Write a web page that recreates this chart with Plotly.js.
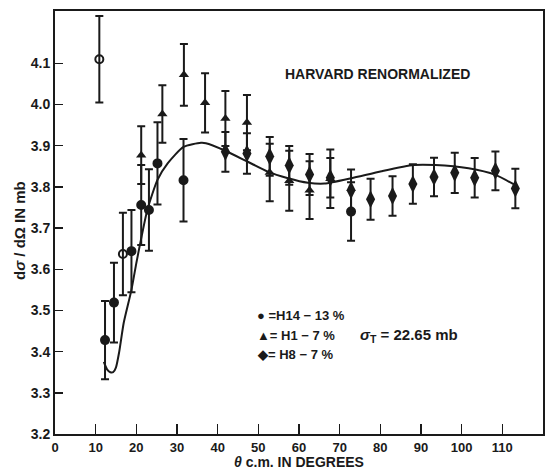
<!DOCTYPE html>
<html>
<head>
<meta charset="utf-8">
<script src="https://cdn.plot.ly/plotly-3.0.1.min.js"></script>
<style>html,body{margin:0;padding:0;background:#fff;}#chart{width:553px;height:472px;}</style>
</head>
<body>
<div id="chart"></div>
<script>
// H14 - 13 % (circles)
var h14X = [10.9, 12.3, 14.5, 16.7, 18.8, 21.2, 23.1, 25.2, 31.6, 72.8];
var h14Y = [4.11, 3.428, 3.519, 3.637, 3.644, 3.756, 3.744, 3.857, 3.816, 3.74];
var h14Err = [0.105, 0.095, 0.097, 0.10, 0.10, 0.097, 0.099, 0.10, 0.10, 0.071];
var h14Open = [true, false, false, true, false, false, false, false, false, false];

// H1 - 7 % (triangles)
var h1X = [21.2, 26.4, 31.7, 36.9, 41.9, 47.2, 52.8, 57.6, 62.6, 67.7];
var h1Y = [3.877, 3.977, 4.072, 4.004, 3.966, 3.956, 3.835, 3.815, 3.792, 3.82];
var h1Err = [0.07, 0.07, 0.075, 0.072, 0.067, 0.067, 0.07, 0.073, 0.07, 0.071];

// H8 - 7 % (diamonds)
var h8X = [41.9, 47.2, 52.8, 57.6, 62.6, 67.7, 72.8, 77.6, 83.0, 88.0, 93.2, 98.3, 103.2, 108.3, 113.2];
var h8Y = [3.885, 3.881, 3.874, 3.852, 3.83, 3.822, 3.792, 3.770, 3.778, 3.807, 3.824, 3.834, 3.822, 3.839, 3.796];
var h8Err = [0.048, 0.049, 0.047, 0.047, 0.05, 0.048, 0.05, 0.05, 0.048, 0.048, 0.047, 0.049, 0.048, 0.047, 0.048];

// fitted curve
var curveX = [12.0, 12.8, 13.6, 14.3, 15.0, 15.8, 16.9, 18.8, 20.0, 21.1, 22.7, 25.2, 27.7, 31.6, 35.9, 37.1, 41.6, 47.4, 52.3, 57.3, 62.2, 66.3, 72.9, 80.3, 88.2, 93.5, 101.7, 108.3, 113.2];
var curveY = [3.375, 3.357, 3.350, 3.350, 3.362, 3.40, 3.47, 3.55, 3.615, 3.67, 3.744, 3.817, 3.857, 3.897, 3.907, 3.906, 3.889, 3.861, 3.837, 3.821, 3.810, 3.808, 3.821, 3.838, 3.853, 3.853, 3.845, 3.829, 3.804];

// ticks
var xTickVals = [0, 10, 20, 30, 40, 50, 60, 70, 80, 90, 100, 110, 120];
var xTickText = ['0', '10', '20', '30', '40', '50', '60', '70', '80', '90', '100', '110', '120'];
var yTickVals = [3.2, 3.3, 3.4, 3.5, 3.6, 3.7, 3.8, 3.9, 4.0, 4.1];
var yTickText = ['3.2', '3.3', '3.4', '3.5', '3.6', '3.7', '3.8', '3.9', '4.0', '4.1'];

var ink = '#1a1a1a';
var fam = 'Liberation Sans, Arial, sans-serif';
var fnt = {family: fam, size: 13, color: ink, weight: 'bold'};

function errBar(arr) {
  return {type: 'data', array: arr, visible: true, color: ink, thickness: 2, width: 4};
}

var traces = [
  {
    x: curveX, y: curveY, mode: 'lines', type: 'scatter',
    line: {color: ink, width: 2, shape: 'spline', smoothing: 0.6},
    hoverinfo: 'skip'
  },
  {
    x: h14X, y: h14Y, mode: 'markers', type: 'scatter', name: 'H14',
    error_y: errBar(h14Err),
    marker: {
      symbol: h14Open.map(function (o) { return o ? 'circle-open' : 'circle'; }),
      size: 8, color: ink, line: {color: ink, width: 2}
    }
  },
  {
    x: h1X, y: h1Y, mode: 'markers', type: 'scatter', name: 'H1',
    error_y: errBar(h1Err),
    marker: {symbol: 'triangle-up', size: 9, color: ink}
  },
  {
    x: h8X, y: h8Y, mode: 'markers', type: 'scatter', name: 'H8',
    error_y: errBar(h8Err),
    marker: {symbol: 'diamond-tall', size: 13, color: ink}
  }
];

var layout = {
  width: 553, height: 472,
  margin: {l: 55, r: 10, t: 11, b: 38},
  paper_bgcolor: '#fff', plot_bgcolor: '#fff',
  showlegend: false,
  font: fnt,
  xaxis: {
    range: [0, 120], tickvals: xTickVals, ticktext: xTickText,
    ticks: 'inside', ticklen: 10, tickwidth: 1.5, tickcolor: ink,
    showline: true, linecolor: ink, linewidth: 2, mirror: true,
    showgrid: false, zeroline: false,
    tickfont: {family: fam, size: 13, color: ink, weight: 'bold'}
  },
  yaxis: {
    range: [3.2, 4.227], tickvals: yTickVals, ticktext: yTickText,
    ticks: 'inside', ticklen: 8, tickwidth: 1.5, tickcolor: ink,
    showline: true, linecolor: ink, linewidth: 2, mirror: true,
    showgrid: false, zeroline: false,
    tickfont: {family: fam, size: 14, color: ink, weight: 'bold'}
  },
  annotations: [
    {xref: 'paper', yref: 'paper', x: 0.66, y: 0.851, text: 'HARVARD RENORMALIZED',
     showarrow: false, font: {family: fam, size: 14, color: ink, weight: 'bold'}, xanchor: 'center', yanchor: 'middle'},
    {xref: 'paper', yref: 'paper', x: 0.41, y: 0.281, text: '● =H14 − 13 %',
     showarrow: false, font: fnt, xanchor: 'left', yanchor: 'middle'},
    {xref: 'paper', yref: 'paper', x: 0.41, y: 0.232, text: '▲= H1 − 7 %',
     showarrow: false, font: fnt, xanchor: 'left', yanchor: 'middle'},
    {xref: 'paper', yref: 'paper', x: 0.41, y: 0.187, text: '◆= H8 − 7 %',
     showarrow: false, font: fnt, xanchor: 'left', yanchor: 'middle'},
    {xref: 'paper', yref: 'paper', x: 0.621, y: 0.232, text: '<i>σ</i><sub>T</sub> = 22.65 mb',
     showarrow: false, font: {family: fam, size: 15, color: ink, weight: 'bold'}, xanchor: 'left', yanchor: 'middle'},
    {xref: 'paper', yref: 'paper', x: -0.074, y: 0.482, text: 'd<i>σ</i> / dΩ IN mb',
     textangle: -90, showarrow: false, font: {family: fam, size: 15, color: ink, weight: 'bold'}, xanchor: 'center', yanchor: 'middle'},
    {xref: 'paper', yref: 'paper', x: 0.5, y: -0.066, text: '<i>θ</i> c.m. IN DEGREES',
     showarrow: false, font: {family: fam, size: 14, color: ink, weight: 'bold'}, xanchor: 'center', yanchor: 'middle'}
  ]
};

Plotly.newPlot('chart', traces, layout, {staticPlot: true, displayModeBar: false});
</script>
</body>
</html>
